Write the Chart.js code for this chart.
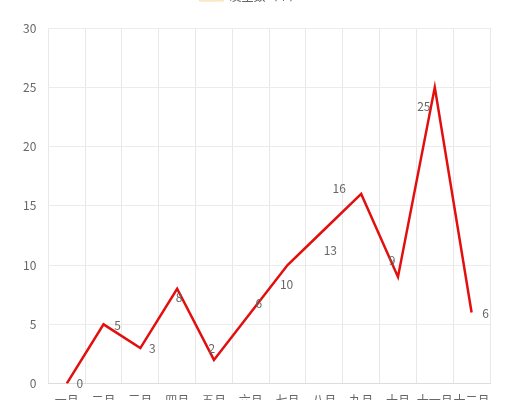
<!DOCTYPE html>
<html>
<head>
<meta charset="utf-8">
<script src="https://cdn.jsdelivr.net/npm/chart.js@4/dist/chart.umd.min.js"></script>
<style>
    html, body { margin: 0; padding: 0; background: #fff; overflow: hidden; }
    #wrap { position: relative; width: 520px; height: 444px; margin-top: -20px; }
</style>
</head>
<body>
<div id="wrap"><canvas id="chart"></canvas></div>
<script>
// categories and values
const months = ['一月', '二月', '三月', '四月', '五月', '六月', '七月', '八月', '九月', '十月', '十一月', '十二月'];
const counts = [0, 5, 3, 8, 2, 6, 10, 13, 16, 9, 25, 6];
const yTicks = [0, 5, 10, 15, 20, 25, 30];
const seriesName = '发生数（个）';

// where each value label sits relative to its point (px)
const labelNudge = [
    [13, 0], [14, 1], [12, 0], [2, 9], [-2, -11], [8, -9],
    [-1, 19], [6, 21], [-22, -6], [-6, -16], [-11, 19], [14, 1]
];

const valueLabels = {
    id: 'valueLabels',
    afterDatasetsDraw(chart) {
        const ctx = chart.ctx;
        const meta = chart.getDatasetMeta(0);
        ctx.save();
        ctx.font = '12px "Noto Sans CJK SC", "Noto Sans", sans-serif';
        ctx.fillStyle = '#666';
        ctx.textAlign = 'center';
        ctx.textBaseline = 'middle';
        meta.data.forEach((pt, i) => {
            const [dx, dy] = labelNudge[i];
            ctx.fillText(String(counts[i]), pt.x + dx, pt.y + dy);
        });
        ctx.restore();
    }
};

// extra room under the legend
const legendGap = {
    id: 'legendGap',
    beforeInit(chart) {
        const fit = chart.legend.fit;
        chart.legend.fit = function () {
            fit.bind(chart.legend)();
            this.height += 16;
        };
    }
};

new Chart(document.getElementById('chart'), {
    type: 'line',
    data: {
        labels: months,
        datasets: [{
            label: seriesName,
            data: counts,
            borderColor: '#e30f0f',
            backgroundColor: 'rgba(255, 220, 150, 0.5)',
            borderWidth: 2.5,
            pointRadius: 0,
            tension: 0,
            fill: false
        }]
    },
    options: {
        responsive: true,
        maintainAspectRatio: false,
        animation: false,
        layout: { padding: { left: 11, right: 30, top: 0, bottom: 6 } },
        plugins: {
            legend: {
                position: 'top',
                labels: {
                    color: '#666',
                    boxWidth: 24,
                    boxHeight: 10,
                    font: { size: 12, family: '"Noto Sans CJK SC", sans-serif' },
                    generateLabels: chart => chart.data.datasets.map((ds, i) => ({
                        text: ds.label,
                        fillStyle: 'rgba(255, 236, 190, 0.6)',
                        strokeStyle: '#f6dfb0',
                        lineWidth: 1,
                        fontColor: '#666',
                        datasetIndex: i
                    }))
                }
            },
            tooltip: { enabled: false }
        },
        scales: {
            x: {
                offset: true,
                grid: { color: '#e8e8e8', offset: true, drawTicks: false },
                border: { color: '#ddd' },
                ticks: {
                    color: '#666',
                    padding: 10,
                    maxRotation: 0,
                    autoSkip: false,
                    font: { size: 12, family: '"Noto Sans CJK SC", sans-serif' }
                }
            },
            y: {
                min: 0,
                max: 30,
                afterBuildTicks: axis => { axis.ticks = yTicks.map(v => ({ value: v })); },
                grid: { color: '#ececec', drawTicks: false },
                border: { display: false },
                ticks: {
                    color: '#666',
                    padding: 12,
                    font: { size: 12, family: '"Noto Sans CJK SC", sans-serif' }
                }
            }
        }
    },
    plugins: [valueLabels, legendGap]
});
</script>
</body>
</html>
